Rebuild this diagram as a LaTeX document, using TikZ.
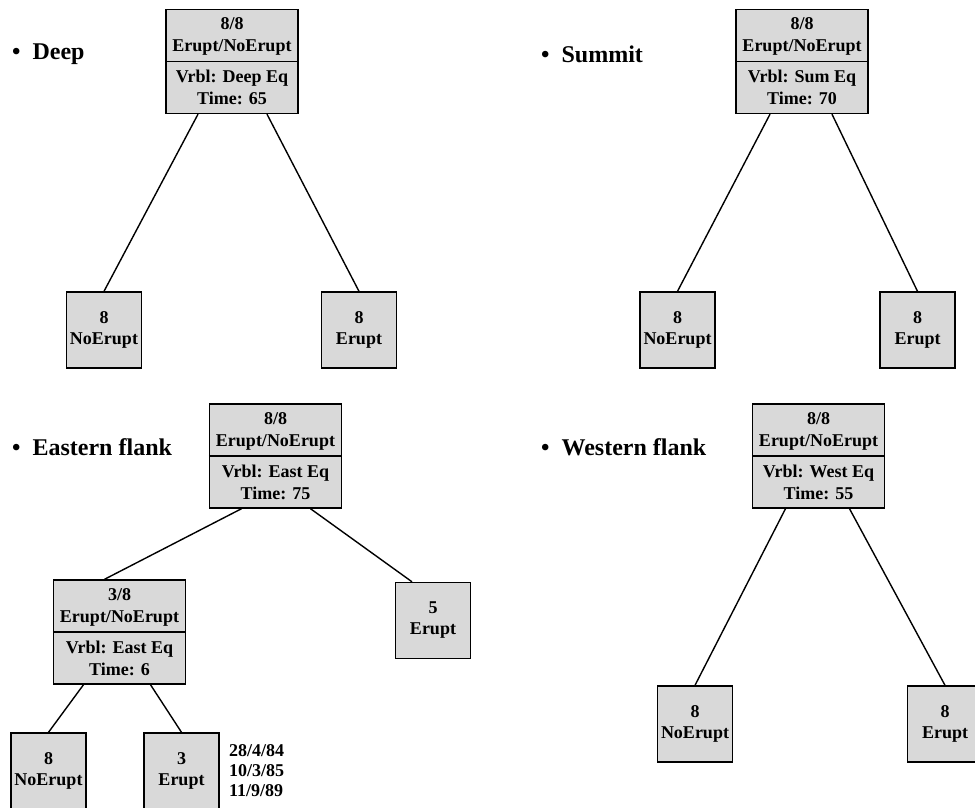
\documentclass[tikz,border=0pt]{standalone}
\usepackage{fontspec}
\setmainfont{Liberation Serif}
\begin{document}
\begin{tikzpicture}[x=1pt,y=-1pt,
  inner/.style={draw, line width=1.4pt, fill=gray!30, minimum width=132pt, minimum height=104pt,
    inner sep=0pt, align=center, font=\fontsize{18}{22}\selectfont\bfseries},
  leaf/.style={draw, line width=1.4pt, fill=gray!30, minimum width=75pt, minimum height=76pt,
    inner sep=0pt, align=center, font=\fontsize{18}{21}\selectfont\bfseries},
  edge/.style={line width=1.4pt},
  ttl/.style={anchor=west, inner sep=0pt, font=\fontsize{24}{28}\selectfont\bfseries},
  dates/.style={anchor=north west, inner sep=0pt, align=left, font=\fontsize{18}{20}\selectfont\bfseries}]
\useasboundingbox (0,0) rectangle (975,807);

% ---------- Deep ----------
\node[ttl] (tdeep) at (12,54) {\textbullet\hspace{12pt}Deep};
\node[inner] (d0) at (232,61.5) {8/8\\Erupt/NoErupt\\[9pt]Vrbl: Deep Eq\\Time: 65};
\draw[line width=1.4pt] (d0.west) -- (d0.east);
\node[leaf] (d1) at (104,330) {8\\NoErupt};
\node[leaf] (d2) at (359,330) {8\\Erupt};
\draw[edge] ([xshift=-34pt]d0.south) -- (d1.north);
\draw[edge] ([xshift=35pt]d0.south) -- (d2.north);

% ---------- Summit ----------
\node[ttl] (tsum) at (541,54) {\textbullet\hspace{12pt}Summit};
\node[inner] (s0) at (802,61.5) {8/8\\Erupt/NoErupt\\[9pt]Vrbl: Sum Eq\\Time: 70};
\draw[line width=1.4pt] (s0.west) -- (s0.east);
\node[leaf] (s1) at (677.5,330) {8\\NoErupt};
\node[leaf] (s2) at (917.5,330) {8\\Erupt};
\draw[edge] ([xshift=-32pt]s0.south) -- (s1.north);
\draw[edge] ([xshift=30pt]s0.south) -- (s2.north);

% ---------- Eastern flank ----------
\node[ttl] (teast) at (12,447) {\textbullet\hspace{12pt}Eastern flank};
\node[inner] (e0) at (275.5,456) {8/8\\Erupt/NoErupt\\[9pt]Vrbl: East Eq\\Time: 75};
\draw[line width=1.4pt] (e0.west) -- (e0.east);
\node[inner] (e1) at (119.5,632) {3/8\\Erupt/NoErupt\\[9pt]Vrbl: East Eq\\Time: 6};
\draw[line width=1.4pt] (e1.west) -- (e1.east);
\node[leaf] (e2) at (433,620.5) {5\\Erupt};
\draw[edge] ([xshift=-34pt]e0.south) -- ([xshift=-15pt]e1.north);
\draw[edge] ([xshift=35pt]e0.south) -- ([xshift=-21pt]e2.north);
\node[leaf] (e3) at (48.5,771) {8\\NoErupt};
\node[leaf] (e4) at (181.5,771) {3\\Erupt};
\draw[edge] ([xshift=-36pt]e1.south) -- (e3.north);
\draw[edge] ([xshift=31pt]e1.south) -- (e4.north);
\node[dates] (edates) at (229,744) {28/4/84\\10/3/85\\11/9/89};

% ---------- Western flank ----------
\node[ttl] (twest) at (541,447) {\textbullet\hspace{12pt}Western flank};
\node[inner] (w0) at (818.5,456) {8/8\\Erupt/NoErupt\\[9pt]Vrbl: West Eq\\Time: 55};
\draw[line width=1.4pt] (w0.west) -- (w0.east);
\node[leaf] (w1) at (695,724) {8\\NoErupt};
\node[leaf] (w2) at (945,724) {8\\Erupt};
\draw[edge] ([xshift=-33pt]w0.south) -- (w1.north);
\draw[edge] ([xshift=31pt]w0.south) -- (w2.north);
\end{tikzpicture}
\end{document}
